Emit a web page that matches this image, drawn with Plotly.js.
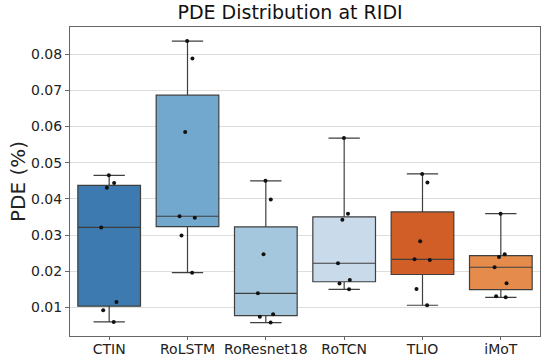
<!DOCTYPE html>
<html>
<head>
<meta charset="utf-8">
<script src="https://cdn.plot.ly/plotly-3.0.1.min.js"></script>
<style>
  body { margin: 0; background: #fff; }
  #plot { width: 553px; height: 359px; }
</style>
</head>
<body>
<div id="plot"></div>
<script>
// PDE values (%) per method
const methods = ['CTIN', 'RoLSTM', 'RoResnet18', 'RoTCN', 'TLIO', 'iMoT'];
const ctin = [0.0465, 0.0444, 0.0431, 0.0321, 0.0115, 0.0092, 0.0060];
const rolstm = [0.0836, 0.0788, 0.0585, 0.0352, 0.0348, 0.0299, 0.0196];
const roresnet18 = [0.0450, 0.0398, 0.0247, 0.0139, 0.0081, 0.0074, 0.0058];
const rotcn = [0.0568, 0.0359, 0.0342, 0.0222, 0.0176, 0.0166, 0.0150];
const tlio = [0.0469, 0.0445, 0.0283, 0.0233, 0.0231, 0.0151, 0.0106];
const imot = [0.0359, 0.0247, 0.0239, 0.0211, 0.0167, 0.0131, 0.0128];
const colors = ['#3c7ab0', '#73a8ce', '#a4c7dd', '#c9daea', '#d05e26', '#e58c4d'];

const series = [ctin, rolstm, roresnet18, rotcn, tlio, imot];

var data = series.map(function (vals, i) {
    return {
        type: 'box',
        name: methods[i],
        x: vals.map(function () { return methods[i]; }),
        y: vals,
        quartilemethod: 'inclusive',
        boxpoints: 'all',
        pointpos: 0,
        jitter: 0.3,
        width: 0.8,
        fillcolor: colors[i],
        line: { color: '#3f3f3f', width: 1.2 },
        whiskerwidth: 0.5,
        marker: { color: '#111111', size: 4 },
        showlegend: false,
        hoverinfo: 'y'
    };
});

var layout = {
    width: 553,
    height: 359,
    margin: { l: 70, r: 13, t: 27, b: 23 },
    paper_bgcolor: '#ffffff',
    plot_bgcolor: '#ffffff',
    font: { family: 'DejaVu Sans', color: '#222222', size: 15 },
    title: {
        text: 'PDE Distribution at RIDI',
        font: { size: 19, color: '#111111' },
        x: 0.5245,
        xanchor: 'center',
        y: 0.985,
        yanchor: 'top'
    },
    xaxis: {
        categoryorder: 'array',
        categoryarray: methods,
        range: [-0.5, 5.5],
        showline: true,
        mirror: true,
        linecolor: '#666666',
        linewidth: 1,
        ticks: 'outside',
        ticklen: 3,
        tickcolor: '#666666',
        ticklabelstandoff: -3,
        showgrid: false,
        tickfont: { size: 14 }
    },
    yaxis: {
        range: [0.0021, 0.0875],
        dtick: 0.01,
        tick0: 0,
        tickformat: '.2f',
        showline: true,
        mirror: true,
        linecolor: '#666666',
        linewidth: 1,
        ticks: 'outside',
        ticklen: 4,
        tickcolor: '#666666',
        showgrid: true,
        gridcolor: '#dddddd',
        zeroline: false,
        title: { text: 'PDE (%)', font: { size: 20 }, standoff: 0 },
        tickfont: { size: 14 }
    }
};

Plotly.newPlot('plot', data, layout, { displayModeBar: false, staticPlot: true });
</script>
</body>
</html>
